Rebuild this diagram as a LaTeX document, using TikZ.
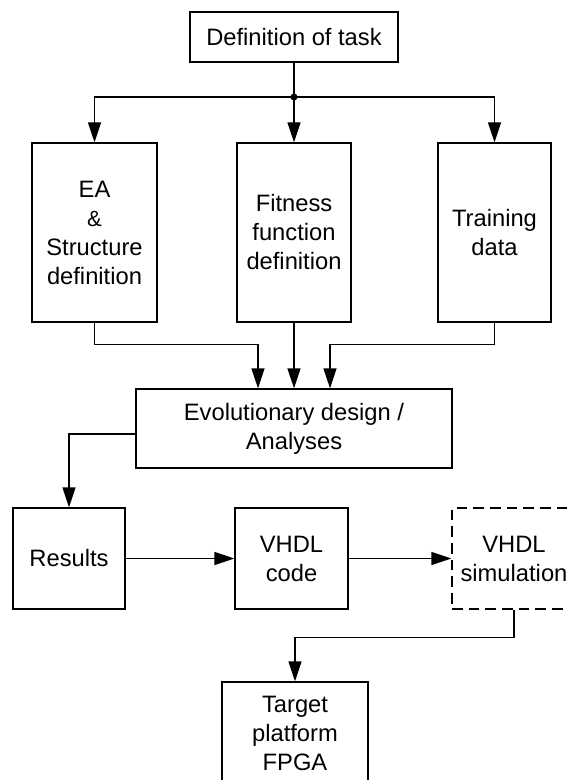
\documentclass[tikz,border=0pt]{standalone}
\usepackage{fontspec}
\setmainfont{Liberation Sans}
\usetikzlibrary{arrows.meta}

\begin{document}
\begin{tikzpicture}[line width=0.8pt]
\useasboundingbox (0,0) rectangle (11.36,-15.6);
\clip (0,0) rectangle (11.36,-15.6);

\begin{scope}[every node/.style={rectangle,draw,align=center,inner sep=2pt,font=\fontsize{13.5}{16.5}\selectfont}]
    \node (task) at (5.88, -0.74) [minimum width=4.16cm, minimum height=1cm] {Definition of task};

    \node (ea) at (1.89, -4.65) [minimum width=2.5cm, minimum height=3.58cm] {EA\\{\fontsize{12.5}{12}\selectfont\&}\\Structure\\definition};
    \node (fit) at (5.88, -4.65) [minimum width=2.28cm, minimum height=3.58cm] {Fitness\\function\\definition};
    \node (train) at (9.89, -4.65) [minimum width=2.26cm, minimum height=3.58cm] {Training\\data};

    \node (evo) at (5.88, -8.57) [minimum width=6.32cm, minimum height=1.58cm] {Evolutionary design /\\Analyses};

    \node (res) at (1.38, -11.17) [minimum width=2.24cm, minimum height=2.02cm] {Results};
    \node (code) at (5.83, -11.17) [minimum width=2.26cm, minimum height=2.02cm] {VHDL\\code};
    \node (sim) at (10.28, -11.17) [minimum width=2.48cm, minimum height=2.02cm, dash pattern=on 6pt off 3.5pt] {VHDL\\simulation};

    \node (target) at (5.9, -14.66) [minimum width=2.92cm, minimum height=2.04cm] {Target\\platform\\FPGA};
\end{scope}

\coordinate (dot) at (5.88, -1.94);
\fill (dot) circle (0.07);

\begin{scope}[>={Triangle[length=0.4cm, width=0.26cm]}]
    \draw (task) -- (dot);
    \draw [->] (dot) -| (ea.north);
    \path [->] (dot) edge (fit);
    \draw [->] (dot) -| (train.north);

    \draw [->] (ea.south) -- ++(0,-0.44) -| ([xshift=-0.72cm]evo.north);
    \path [->] (fit) edge (evo);
    \draw [->] (train.south) -- ++(0,-0.44) -| ([xshift=0.72cm]evo.north);

    \draw [->] ([yshift=-0.11cm]evo.west) -| (res.north);
    \path [->] (res) edge (code);
    \path [->] (code) edge (sim);

    \draw [->] (sim.south) -- ++(0,-0.56) -| (target.north);
\end{scope}
\end{tikzpicture}
\end{document}
